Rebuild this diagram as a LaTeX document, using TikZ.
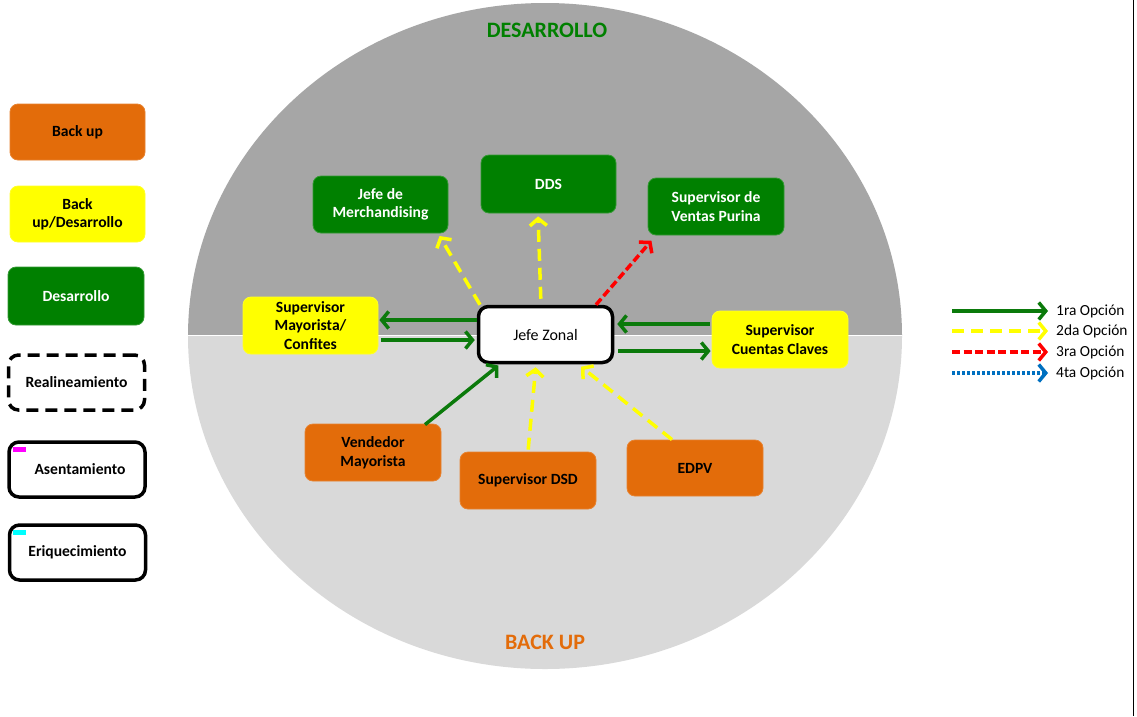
\documentclass[tikz,border=0pt]{standalone}
\usepackage{fontspec}
\setmainfont{Carlito}
\usetikzlibrary{arrows.meta}
\definecolor{upgray}{HTML}{A6A6A6}
\definecolor{lowgray}{HTML}{D9D9D9}
\definecolor{boxgreen}{HTML}{008000}
\definecolor{arrgreen}{HTML}{0B7A0B}
\definecolor{boxorange}{HTML}{E36C0A}
\definecolor{boxyellow}{HTML}{FFFF00}
\definecolor{arrred}{HTML}{FF0000}
\definecolor{arrblue}{HTML}{0070C0}
\definecolor{mark1}{HTML}{FF00FF}
\definecolor{mark2}{HTML}{00FFFF}
\begin{document}
\begin{tikzpicture}[x=1pt,y=-1pt,
  box/.style={rounded corners=8pt, align=center, inner sep=2pt,
    minimum width=136pt, minimum height=57pt,
    font=\bfseries\fontsize{15.6}{18.5}\selectfont},
  orgbox/.style={box, fill=boxorange, draw=boxorange!85!white, line width=0.8pt},
  ylwbox/.style={box, fill=boxyellow, draw=boxyellow!85!white, line width=0.8pt},
  grnbox/.style={box, fill=boxgreen, draw=boxgreen!80!white, line width=0.8pt, text=white},
  outlinebox/.style={box, fill=white, draw=black, line width=3.5pt, rounded corners=10pt,
    minimum width=136pt, minimum height=55pt},
  tip/.style={-{Straight Barb[length=7pt,width=17pt]}},
  opt1/.style={tip, draw=arrgreen, line width=3.5pt},
  opt2/.style={tip, draw=boxyellow, line width=3.5pt, dash pattern=on 12pt off 7pt},
  opt3/.style={tip, draw=arrred, line width=3.5pt, dash pattern=on 8pt off 3.5pt},
  opt4/.style={tip, draw=arrblue, line width=3.5pt, dash pattern=on 3pt off 2pt},
  legtext/.style={anchor=west, inner sep=0pt, font=\fontsize{15.4}{18}\selectfont},
  title/.style={font=\bfseries\fontsize{22}{26}\selectfont}
]
\useasboundingbox (0,0) rectangle (1137,716);
\fill[white] (0,0) rectangle (1137,716);

% two-tone circle: development above, back up below
\begin{scope}
  \clip (545,336) ellipse [x radius=357, y radius=333];
  \fill[upgray] (0,0) rectangle (1137,335);
  \fill[lowgray] (0,335) rectangle (1137,716);
  \draw[white, line width=1pt] (0,335) -- (1137,335);
\end{scope}
\draw[black, line width=1pt] (1133.5,0) -- (1133.5,716);

\node[title, text=boxgreen] (tdes) at (547,30) {DESARROLLO};
\node[title, text=boxorange] (tbak) at (545,642) {BACK UP};

% legend of box colours
\node[orgbox, minimum width=135pt, minimum height=56pt, text=black] (lbak) at (77.5,132) {Back up};
\node[ylwbox, minimum width=135pt, minimum height=56pt] (lbd) at (77.5,214) {Back\\up/Desarrollo};
\node[grnbox, minimum height=58pt] (ldes) at (76,296) {Desarrollo};
\node[outlinebox, dash pattern=on 12pt off 7pt, minimum width=136pt] (lrea) at (76.5,382.5) {Realineamiento};
\node[outlinebox] (lase) at (77,469.5) {\hspace*{6pt}Asentamiento};
\node[outlinebox] (leri) at (77.5,552.5) {Eriquecimiento};
\fill[mark1] ([shift={(6pt,-7pt)}]lase.north west) rectangle ++(13pt,-5pt);
\fill[mark2] ([shift={(5pt,-7pt)}]leri.north west) rectangle ++(13pt,-5pt);

% organisation boxes
\node[grnbox, minimum width=135pt] (merch) at (380.5,204.5) {Jefe de\\Merchandising};
\node[grnbox, minimum width=135pt, minimum height=58pt] (dds) at (548.5,184) {DDS};
\node[grnbox] (pur) at (716,206.5) {Supervisor de\\Ventas Purina};
\node[ylwbox, minimum width=135pt] (may) at (310.5,325.5) {Supervisor\\Mayorista/\\Confites};
\node[outlinebox, font=\fontsize{16}{19}\selectfont, minimum width=134pt, minimum height=56pt] (jz) at (545.5,334.5) {Jefe Zonal};
\node[ylwbox] (cc) at (780,339.5) {Supervisor\\Cuentas Claves};
\node[orgbox] (ven) at (373,452.5) {Vendedor\\Mayorista};
\node[orgbox] (dsd) at (528,480.5) {Supervisor DSD};
\node[orgbox, minimum height=56pt] (edpv) at (695,468) {EDPV};

% connectors
\draw[opt2, shorten >=3pt] ([xshift=-65.5pt]jz.north) -- ([xshift=57.5pt]merch.south);
\draw[opt2, shorten <=6pt, shorten >=3pt] ([xshift=-4.5pt]jz.north) -- ([xshift=-7.5pt]jz.north |- dds.south);
\draw[opt3, shorten >=7pt] ([xshift=50.5pt]jz.north) -- ([xshift=-60pt]pur.south);
\draw[opt1, shorten >=1pt] ([yshift=14.5pt]jz.west) -- ([yshift=14.5pt]jz.west -| may.east);
\draw[opt1, shorten <=3pt, shorten >=2pt] ([yshift=-5.5pt]jz.west -| may.east) -- ([yshift=-5.5pt]jz.west);
\draw[opt1, shorten <=2pt, shorten >=3pt] ([yshift=10.5pt]jz.east -| cc.west) -- ([yshift=10.5pt]jz.east);
\draw[opt1, shorten <=4pt, shorten >=1pt] ([yshift=-16.5pt]jz.east) -- ([yshift=-16.5pt]jz.east -| cc.west);
\draw[opt1, shorten >=2pt] ([xshift=52pt,yshift=-1pt]ven.north) -- ([xshift=-45.5pt]jz.south);
\draw[opt2, shorten <=2pt, shorten >=3pt] (dsd.north) -- ([xshift=-9.5pt]jz.south);
\draw[opt2, shorten >=4pt] ([xshift=-23pt]edpv.north) -- ([xshift=32.5pt]jz.south);

% legend of connector types
\node[legtext] (o1) at (1056,311) {1ra Opción};
\node[legtext] (o2) at (1056,331) {2da Opción};
\node[legtext] (o3) at (1056,352) {3ra Opción};
\node[legtext] (o4) at (1056,373) {4ta Opción};
\coordinate (s1) at (952,311);
\coordinate (s2) at (952,331);
\coordinate (s3) at (952,352);
\coordinate (s4) at (952,373);
\draw[opt1, shorten >=8pt] (s1) -- (o1.west);
\draw[opt2, shorten >=8pt] (s2) -- (o2.west);
\draw[opt3, shorten >=8pt] (s3) -- (o3.west);
\draw[opt4, shorten >=8pt] (s4) -- (o4.west);
\end{tikzpicture}
\end{document}
